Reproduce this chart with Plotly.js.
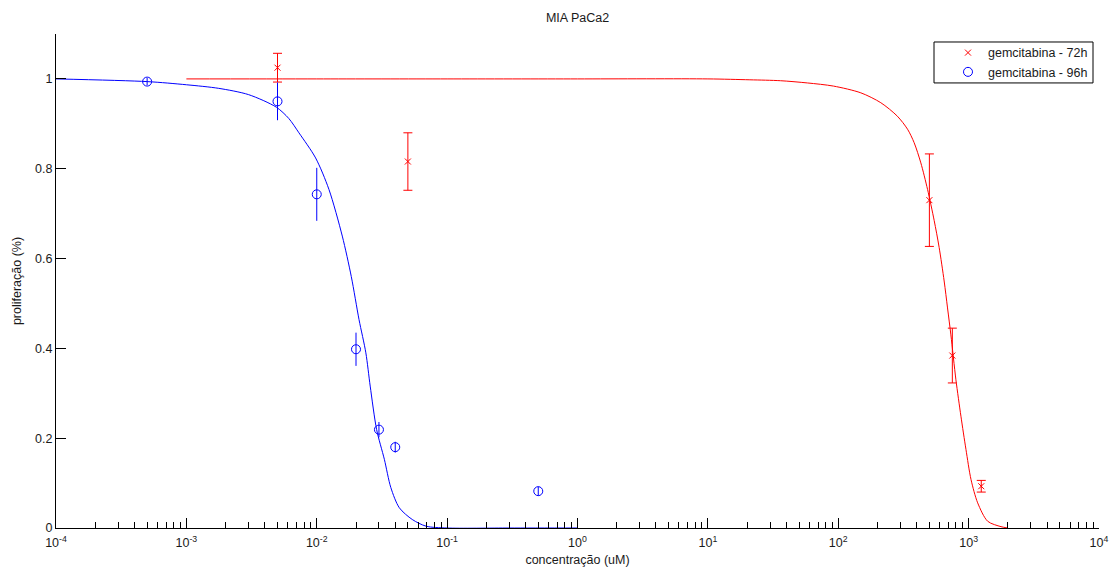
<!DOCTYPE html>
<html>
<head>
<meta charset="utf-8">
<script src="https://cdn.plot.ly/plotly-3.0.1.min.js"></script>
<style>
html,body{margin:0;padding:0;background:#fff;}
#chart{width:1110px;height:569px;}
</style>
</head>
<body>
<div id="chart"></div>
<script>
// ---- data ----
var conc72 = [0.005, 0.05, 500, 750, 1250];
var prolif72 = [1.025, 0.816, 0.730, 0.384, 0.093];
var err72 = [0.032, 0.064, 0.103, 0.061, 0.013];

var conc96 = [0.0005, 0.005, 0.01, 0.02, 0.03, 0.04, 0.5];
var prolif96 = [0.994, 0.950, 0.743, 0.398, 0.219, 0.180, 0.082];
var err96 = [0.008, 0.042, 0.059, 0.037, 0.017, 0.012, 0.010];

var fitX72 = [0.001, 0.01, 0.1, 1, 10, 21, 36, 58, 92, 149, 212, 284, 340, 382, 430, 484, 544, 594, 649, 689, 731, 799, 873, 954, 1043, 1173, 1400, 1771, 2000];
var fitY72 = [1, 1, 1, 1, 1, 0.998, 0.996, 0.991, 0.984, 0.969, 0.947, 0.917, 0.888, 0.858, 0.813, 0.754, 0.685, 0.625, 0.550, 0.490, 0.430, 0.330, 0.249, 0.175, 0.108, 0.056, 0.015, 0.003, 0];

var fitX96 = [0.0001, 0.0005, 0.001, 0.00177, 0.003, 0.0049, 0.0061, 0.0073, 0.0098, 0.0124, 0.0157, 0.0184, 0.0211, 0.0238, 0.0257, 0.0288, 0.033, 0.037, 0.043, 0.054, 0.069, 0.1, 0.3, 1];
var fitY96 = [1, 0.994, 0.987, 0.979, 0.965, 0.937, 0.912, 0.880, 0.824, 0.754, 0.650, 0.560, 0.464, 0.390, 0.316, 0.219, 0.153, 0.090, 0.045, 0.019, 0.004, 0, 0, 0];

var seriesNames = ['gemcitabina - 72h', 'gemcitabina - 96h'];
var xTickVals = [1e-4, 1e-3, 1e-2, 1e-1, 1, 10, 100, 1000, 10000];
var xTickText = ['10<sup>-4</sup>', '10<sup>-3</sup>', '10<sup>-2</sup>', '10<sup>-1</sup>', '10<sup>0</sup>',
                 '10<sup>1</sup>', '10<sup>2</sup>', '10<sup>3</sup>', '10<sup>4</sup>'];
var yTicks = [0, 0.2, 0.4, 0.6, 0.8, 1];
var yTickText = ['0', '0.2', '0.4', '0.6', '0.8', '1'];

// minor tick positions (2..9 within each decade)
var minorVals = [];
for (var d = 0; d < xTickVals.length - 1; d++) {
  for (var m = 2; m <= 9; m++) minorVals.push(xTickVals[d] * m);
}

var RED = '#ff0000', BLUE = '#0000ff';
var FONT = 'Liberation Sans, Arial, sans-serif';
var TXT = '#1a1a1a';

var traces = [
  {x: fitX72, y: fitY72, mode: 'lines', line: {color: RED, width: 1, shape: 'spline', smoothing: 0.8}, showlegend: false, hoverinfo: 'skip'},
  {x: fitX96, y: fitY96, mode: 'lines', line: {color: BLUE, width: 1, shape: 'spline', smoothing: 0.8}, showlegend: false, hoverinfo: 'skip'},
  {x: conc72, y: prolif72, name: seriesNames[0], mode: 'markers',
   marker: {symbol: 'x-thin-open', size: 6, color: RED, line: {color: RED, width: 1}},
   error_y: {type: 'data', array: err72, visible: true, color: RED, thickness: 1, width: 4.5}},
  {x: conc96, y: prolif96, name: seriesNames[1], mode: 'markers',
   marker: {symbol: 'circle-open', size: 9, color: BLUE, line: {color: BLUE, width: 1}},
   error_y: {type: 'data', array: err96, visible: true, color: BLUE, thickness: 1, width: 0}}
];

// legend frame in pixel terms of the plot area (l=56, plot width 1043, bottom 528.5, height 494.5)
function px2paperX(p) { return (p - 56) / 1043; }
function px2paperY(p) { return (528.5 - p) / 494.5; }

var layout = {
  width: 1110, height: 569,
  paper_bgcolor: '#ffffff', plot_bgcolor: '#ffffff',
  font: {family: FONT, size: 12.5, color: TXT},
  margin: {l: 56, r: 11, t: 34, b: 41, pad: 0},
  title: {text: 'MIA PaCa2', font: {family: FONT, size: 12.5, color: TXT},
          x: 0.5, xref: 'paper', y: 1 - 18/569, yref: 'container', yanchor: 'middle'},
  xaxis: {
    type: 'log', range: [-4, 4], tickmode: 'array', tickvals: xTickVals, ticktext: xTickText,
    showline: true, linecolor: '#000', linewidth: 1, mirror: false,
    ticks: 'inside', ticklen: 10, tickcolor: '#000', tickwidth: 1, ticklabelstandoff: 3,
    minor: {tickmode: 'array', tickvals: minorVals, ticks: 'inside', ticklen: 6, tickcolor: '#000', tickwidth: 1, showgrid: false},
    showgrid: false, zeroline: false,
    tickfont: {family: FONT, size: 12.5, color: TXT},
    title: {text: 'concentração (uM)', font: {family: FONT, size: 12.5, color: TXT}, standoff: 6}
  },
  yaxis: {
    range: [0, 1.1], tickmode: 'array', tickvals: yTicks, ticktext: yTickText,
    showline: true, linecolor: '#000', linewidth: 1, mirror: false,
    ticks: 'inside', ticklen: 10, tickcolor: '#000', tickwidth: 1,
    showgrid: false, zeroline: false,
    tickfont: {family: FONT, size: 12.5, color: TXT},
    title: {text: 'proliferação (%)', font: {family: FONT, size: 12.5, color: TXT}, standoff: 10}
  },
  legend: {
    x: px2paperX(1093), xanchor: 'right', y: px2paperY(38), yanchor: 'top',
    bgcolor: 'rgba(0,0,0,0)', borderwidth: 0,
    font: {family: FONT, size: 12.5, color: TXT},
    itemwidth: 30, tracegroupgap: 0
  },
  shapes: [{
    type: 'rect', xref: 'paper', yref: 'paper',
    x0: px2paperX(934), x1: px2paperX(1093), y0: px2paperY(83), y1: px2paperY(42),
    line: {color: '#000', width: 1}, fillcolor: '#ffffff', layer: 'below'
  }],
  showlegend: true
};

Plotly.newPlot('chart', traces, layout, {displayModeBar: false, staticPlot: true});
</script>
</body>
</html>
